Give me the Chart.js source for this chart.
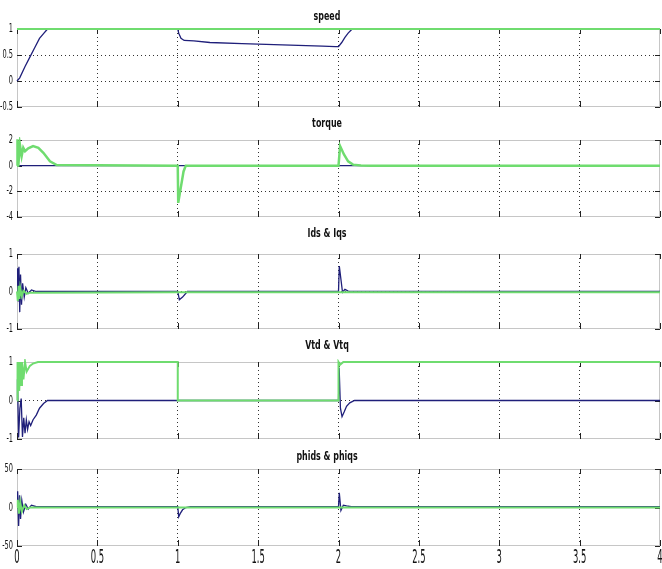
<!DOCTYPE html>
<html lang="en">
<head>
<meta charset="UTF-8">
<title>Motor simulation</title>
<script src="https://cdn.jsdelivr.net/npm/chart.js"></script>
<style>
  body { margin: 0; background: #fff; }
  #wrap { position: relative; width: 662px; height: 569px; overflow: hidden; }
  canvas { position: absolute; left: 0; }
</style>
</head>
<body>
<div id="wrap"></div>
<script>
// x axis
const xTicks = [0, 0.5, 1, 1.5, 2, 2.5, 3, 3.5, 4];
const xTickLabels = ['0', '0.5', '1', '1.5', '2', '2.5', '3', '3.5', '4'];

// speed
const speedTicks = [-0.5, 0, 0.5, 1];
const speedTickLabels = ['-0.5', '0', '0.5', '1'];
const speedRefT = [0, 4];
const speedRefY = [1, 1];
const speedT = [0, 0.017, 0.05, 0.08, 0.11, 0.14, 0.165, 0.19, 1.0, 1.006, 1.02, 1.04, 1.1, 1.2, 1.4, 1.5, 1.7, 1.9, 1.98, 2.0, 2.02, 2.04, 2.06, 2.085, 4];
const speedY = [0, 0.06, 0.28, 0.46, 0.64, 0.82, 0.91, 1.0, 1.0, 0.92, 0.82, 0.78, 0.77, 0.74, 0.72, 0.71, 0.69, 0.67, 0.66, 0.66, 0.74, 0.84, 0.92, 1.0, 1.0];

// torque
const torqueTicks = [-4, -2, 0, 2];
const torqueTickLabels = ['-4', '-2', '0', '2'];
const torqueLoadT = [0, 4];
const torqueLoadY = [0, 0];
const torqueT = [0, 0.003, 0.008, 0.018, 0.029, 0.039, 0.05, 0.07, 0.1, 0.133, 0.164, 0.205, 0.247, 1.0, 1.003, 1.02, 1.036, 1.05, 2.0, 2.01, 2.034, 2.06, 2.09, 2.14, 2.2, 4];
const torqueY = [0, 2.05, -0.05, 1.66, 0.74, 1.39, 1.13, 1.35, 1.53, 1.39, 1.0, 0.34, 0.05, 0, -2.9, -1.63, -0.45, 0, 0, 1.53, 0.87, 0.34, 0.08, 0.02, 0, 0];

// Ids & Iqs
const iTicks = [-1, 0, 1];
const iTickLabels = ['-1', '0', '1'];
const idsT = [0, 0.004, 0.008, 0.012, 0.017, 0.022, 0.028, 0.035, 0.045, 0.055, 0.07, 0.09, 0.12, 1.0, 1.01, 1.03, 1.06, 2.0, 2.005, 2.025, 2.04, 2.06, 4];
const idsY = [0, 0.62, -0.25, 0.66, -0.55, 0.45, -0.35, 0.22, -0.15, 0.1, -0.05, 0.04, 0.0, 0.0, -0.22, -0.15, 0.0, 0.0, 0.68, -0.02, 0.06, 0.01, 0.0];
const iqsT = [0, 0.005, 0.01, 0.015, 0.02, 0.03, 0.04, 0.06, 0.08, 0.1, 1.0, 4];
const iqsY = [0, -0.25, 0.15, -0.2, 0.1, -0.12, 0.02, -0.06, -0.03, -0.03, -0.02, -0.02];

// Vtd & Vtq
const vTicks = [-1, 0, 1];
const vTickLabels = ['-1', '0', '1'];
const vtdT = [0, 0.003, 0.01, 0.018, 0.026, 0.034, 0.042, 0.05, 0.058, 0.066, 0.075, 0.085, 0.1, 0.12, 0.14, 0.165, 0.19, 2.0, 2.004, 2.012, 2.022, 2.035, 2.05, 2.07, 2.1, 4];
const vtdY = [0, 0.55, -0.96, -0.2, 0.05, -0.95, -0.45, -0.85, -0.5, -0.75, -0.55, -0.65, -0.5, -0.38, -0.2, -0.08, 0, 0, 0.85, -0.2, -0.42, -0.3, -0.15, -0.06, 0, 0];
const vtqT = [0, 0.002, 0.005, 0.009, 0.014, 0.019, 0.025, 0.031, 0.04, 0.05, 0.06, 0.08, 0.1, 0.13, 1.0, 1.0001, 2.0, 2.0001, 2.01, 2.03, 4];
const vtqY = [0, 1, 0.05, 1, 0.25, 1, 0.4, 1, 0.55, 1, 0.75, 0.9, 0.96, 1, 1, 0, 0, 1, 0.93, 1, 1];

// phids & phiqs
const phiTicks = [-50, 0, 50];
const phiTickLabels = ['-50', '0', '50'];
const phidsT = [0, 0.004, 0.01, 0.016, 0.022, 0.03, 0.04, 0.055, 0.07, 0.09, 0.12, 1.0, 1.006, 1.015, 1.03, 1.05, 1.08, 2.0, 2.005, 2.015, 2.03, 2.05, 2.08, 4];
const phidsY = [0, 21, -24, 16, -15, 9, -6, 4, -2, 3, 1, 1, -12, -8, -3, 0, 1, 1, 19, -4, 3, 2, 1, 1];
const phiqsT = [0, 0.005, 0.012, 0.02, 0.03, 0.045, 0.06, 0.08, 4];
const phiqsY = [0, 10, -8, 7, -5, 3, -2, 0, 0];

const pts = (t, y) => t.map((v, i) => ({ x: v, y: y[i] }));

const BLUE = '#1f1f7a';
const GREEN = '#6fdc6f';
const FONT = "'DejaVu Sans', sans-serif";

const panels = [
  { title: 'speed', titleY: 17, top: 29, bottom: 107, min: -0.5, max: 1, ticks: speedTicks, labels: speedTickLabels,
    blue: pts(speedT, speedY), green: pts(speedRefT, speedRefY), gw: 2 },
  { title: 'torque', titleY: 124, top: 140, bottom: 217, min: -4, max: 2, ticks: torqueTicks, labels: torqueTickLabels,
    blue: pts(torqueLoadT, torqueLoadY), green: pts(torqueT, torqueY), gw: 2.5 },
  { title: 'Ids & Iqs', titleY: 234, top: 254, bottom: 329, min: -1, max: 1, ticks: iTicks, labels: iTickLabels,
    blue: pts(idsT, idsY), green: pts(iqsT, iqsY), gw: 2 },
  { title: 'Vtd & Vtq', titleY: 346, top: 362, bottom: 439, min: -1, max: 1, ticks: vTicks, labels: vTickLabels,
    blue: pts(vtdT, vtdY), green: pts(vtqT, vtqY), gw: 2 },
  { title: 'phids & phiqs', titleY: 457, top: 469, bottom: 546, min: -50, max: 50, ticks: phiTicks, labels: phiTickLabels,
    blue: pts(phidsT, phidsY), green: pts(phiqsT, phiqsY), gw: 2, last: true }
];

// narrow text, like the condensed font of the original figure
function squeezed(ctx, text, x, y, font, sx, align) {
  ctx.save();
  ctx.translate(x, y);
  ctx.scale(sx, 1);
  ctx.font = font;
  ctx.textAlign = align;
  ctx.textBaseline = 'middle';
  ctx.fillText(text, 0, 0);
  ctx.restore();
}

// frame, inward tick marks, tick labels and subplot title
const framePlugin = {
  id: 'frame',
  beforeDatasetsDraw(chart, args, opts) {
    const { ctx, chartArea: a, scales } = chart;
    ctx.save();
    ctx.strokeStyle = '#c6c6c6';
    ctx.lineWidth = 1;
    ctx.strokeRect(a.left + 0.5, a.top + 0.5, a.right - a.left - 1, a.bottom - a.top - 1);
    ctx.strokeStyle = '#222';
    ctx.beginPath();
    xTicks.forEach(v => {
      const x = Math.round(scales.x.getPixelForValue(v)) + 0.5;
      ctx.moveTo(x, a.top); ctx.lineTo(x, a.top + 5);
      ctx.moveTo(x, a.bottom); ctx.lineTo(x, a.bottom - 6);
    });
    opts.ticks.forEach(v => {
      const y = Math.round(scales.y.getPixelForValue(v)) + 0.5;
      ctx.moveTo(a.left, y); ctx.lineTo(a.left + 5, y);
      ctx.moveTo(a.right, y); ctx.lineTo(a.right - 5, y);
    });
    ctx.stroke();
    ctx.restore();
  },
  afterDraw(chart, args, opts) {
    const { ctx, chartArea: a, scales } = chart;
    ctx.save();
    ctx.fillStyle = '#111';
    squeezed(ctx, opts.title, 327, opts.titleY, 'bold 12px ' + FONT, 0.66, 'center');
    opts.ticks.forEach((v, i) => {
      squeezed(ctx, opts.labels[i], 13, scales.y.getPixelForValue(v), '12px ' + FONT, 0.55, 'right');
    });
    if (opts.last) {
      xTicks.forEach((v, i) => {
        squeezed(ctx, xTickLabels[i], scales.x.getPixelForValue(v), a.bottom + 12, '20px ' + FONT, 0.42, 'center');
      });
    }
    ctx.restore();
  }
};

const wrap = document.getElementById('wrap');

panels.forEach(p => {
  const padTop = p.top - p.titleY + 10;
  const canvasTop = p.top - padTop;
  const xAxisH = p.last ? 20 : 0;
  const height = p.last ? 569 - canvasTop : (p.bottom - p.top) + padTop + 8;
  const padBottom = height - padTop - (p.bottom - p.top) - xAxisH;

  const canvas = document.createElement('canvas');
  canvas.width = 662;
  canvas.height = height;
  canvas.style.top = canvasTop + 'px';
  wrap.appendChild(canvas);

  new Chart(canvas.getContext('2d'), {
    type: 'line',
    data: {
      datasets: [
        { data: p.green, borderColor: GREEN, borderWidth: p.gw, pointRadius: 0, tension: 0, order: 0, clip: 3 },
        { data: p.blue, borderColor: BLUE, borderWidth: 1.3, pointRadius: 0, tension: 0, order: 1, clip: 3 }
      ]
    },
    options: {
      responsive: false,
      animation: false,
      devicePixelRatio: 1,
      layout: { padding: { top: padTop, bottom: padBottom, left: 0, right: 2 } },
      plugins: {
        legend: { display: false },
        tooltip: { enabled: false },
        frame: { title: p.title, titleY: p.titleY - canvasTop, ticks: p.ticks, labels: p.labels, last: !!p.last }
      },
      scales: {
        x: {
          type: 'linear',
          min: 0, max: 4,
          afterBuildTicks: axis => { axis.ticks = xTicks.map(v => ({ value: v })); },
          afterFit: axis => { axis.height = xAxisH; axis.paddingLeft = 0; axis.paddingRight = 0; },
          ticks: { display: false },
          grid: {
            drawTicks: false,
            lineWidth: 1,
            color: c => (c.tick && (c.tick.value === 0 || c.tick.value === 4)) ? 'rgba(0,0,0,0)' : '#333'
          },
          border: { display: false, dash: [1, 3] }
        },
        y: {
          min: p.min, max: p.max,
          afterBuildTicks: axis => { axis.ticks = p.ticks.map(v => ({ value: v })); },
          afterFit: axis => { axis.width = 17; axis.paddingTop = 0; axis.paddingBottom = 0; },
          ticks: { display: false },
          grid: {
            drawTicks: false,
            lineWidth: 1,
            color: c => (c.tick && (c.tick.value === p.min || c.tick.value === p.max)) ? 'rgba(0,0,0,0)' : '#333'
          },
          border: { display: false, dash: [1, 3] }
        }
      }
    },
    plugins: [framePlugin]
  });
});
</script>
</body>
</html>
